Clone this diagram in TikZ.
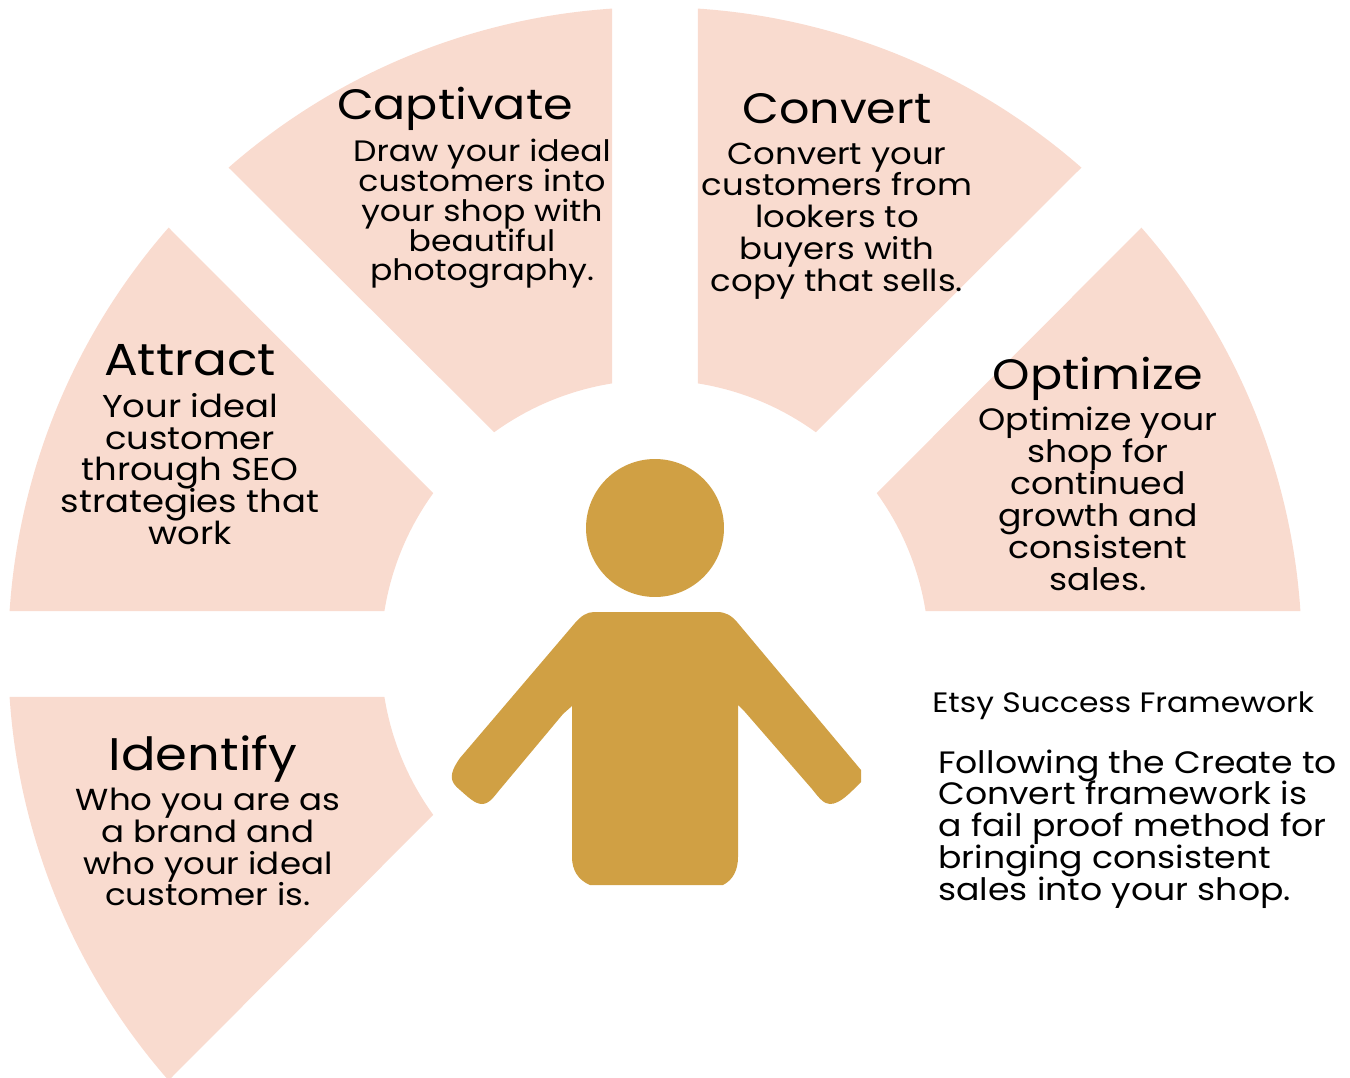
\documentclass[tikz,border=0pt]{standalone}
\usepackage{fontspec}
\setmainfont[FakeStretch=1.12]{Poppins}
\definecolor{sectorpink}{HTML}{F9DBCF}
\definecolor{persongold}{HTML}{D0A044}
\newcommand{\fixedlines}[2]{\fontsize{#1}{#2}\selectfont\lineskiplimit=-20pt\relax}
\tikzset{
  sector/.style={fill=sectorpink},
  person/.style={fill=persongold},
  title/.style={align=center,inner sep=0pt,font=\fixedlines{#1}{29}},
  title/.default=24.2,
  body/.style={align=center,inner sep=0pt,font=\fixedlines{#1}{18.14}},
  bodysmall/.style={align=center,inner sep=0pt,font=\fixedlines{16.8}{17}},
}
\begin{document}
\begin{tikzpicture}[x=0.02cm,y=-0.02cm]
        \useasboundingbox (0,0) rectangle (1350,1078);
        % the five sectors
        \foreach \oa/\ob/\ia/\ib in {93.81/131.24/99.03/125.95, 138.76/176.19/144.05/170.97, 183.81/221.24/189.03/215.95, 86.19/48.76/80.97/54.05, 41.24/3.81/35.95/9.03}
            \fill[sector] ([shift=(\oa:12.94cm)]655,654) arc[start angle=\oa,end angle=\ob,radius=12.94cm]
                -- ([shift=(\ib:5.48cm)]655,654) arc[start angle=\ib,end angle=\ia,radius=5.48cm] -- cycle;
        % person
        \fill[person] (655,528) circle[radius=1.38cm];
        \fill[person] (594,612) -- (717,612) .. controls (725,612) and (731,615) .. (737,622)
            -- (861,770) -- (861,782) .. controls (850,793) and (840,804) .. (830,804)
            .. controls (824,804) and (819,798) .. (812,789) -- (745,712) -- (738,705) -- (738,857)
            .. controls (738,870) and (733,880) .. (723,885) -- (590,885)
            .. controls (578,880) and (572,870) .. (572,857) -- (572,706) -- (563,714) -- (502,787)
            .. controls (495,795) and (490,804) .. (482,804) .. controls (475,804) and (468,797) .. (460,790)
            .. controls (450,782) and (448,775) .. (460,758) -- (575,623) .. controls (581,616) and (587,612) .. (594,612) -- cycle;
        % labels
        \node[title] (captivate) at (455,109) {Captivate};
        \node[bodysmall] (captivatetext) at (482,214) {Draw your ideal\\customers into\\your shop with\\beautiful\\photography.};
        \node[title] (convert) at (837,109) {Convert};
        \node[body=17.25] (converttext) at (837,221) {Convert your\\customers from\\lookers to\\buyers with\\copy that sells.};
        \node[title] (optimize) at (1098,379) {Optimize};
        \node[body=17.6] (optimizetext) at (1098,499) {Optimize your\\shop for\\continued\\growth and\\consistent\\sales.};
        \node[title=25.5] (attract) at (190,360) {Attract};
        \node[body=18] (attracttext) at (190,469) {Your ideal\\customer\\through SEO\\strategies that\\work};
        \node[title=26] (identify) at (203,759) {Identify};
        \node[body=17.3] (identifytext) at (208,847) {Who you are as\\a brand and\\who your ideal\\customer is.};
        \node[anchor=west,inner sep=0pt,font=\fixedlines{15.96}{17}] (framework) at (932,706) {Etsy Success Framework};
        \node[anchor=west,align=left,inner sep=0pt,font=\fixedlines{17.6}{18.14}] (frameworktext) at (938,829) {Following the Create to\\Convert framework is\\a fail proof method for\\bringing consistent\\sales into your shop.};
\end{tikzpicture}
\end{document}
